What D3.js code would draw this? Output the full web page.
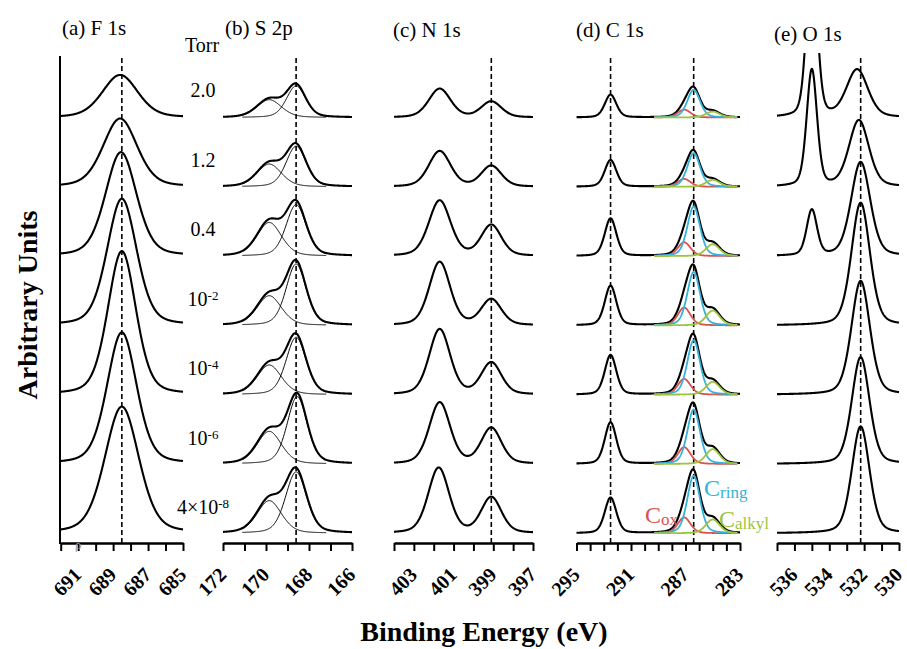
<!DOCTYPE html>
<html>
<head>
<meta charset="utf-8">
<script src="https://cdn.jsdelivr.net/npm/d3@7"></script>
<style>
  body { margin: 0; background: #fff; }
  svg { display: block; }
  text { font-family: "Liberation Serif", "Times New Roman", serif; }
</style>
</head>
<body>
<div id="chart"></div>
<script>
// ---- data ----
const pressureBase = ["2.0", "1.2", "0.4", "10", "10", "10", "4×10"];
const pressureExp  = ["", "", "", "-2", "-4", "-6", "-8"];

const panelTitles  = ["(a) F 1s", "(b) S 2p", "(c) N 1s", "(d) C 1s", "(e) O 1s"];
const energyDomain = [[692, 685], [172, 166], [404, 397], [295, 283], [537, 530]];
const tickLabels   = [[691, 689, 687, 685], [172, 170, 168, 166], [403, 401, 399, 397], [295, 291, 287, 283], [536, 534, 532, 530]];
const refLines     = [[688.5], [168.6], [399.1], [292.5, 286.4], [532.2]];

// peaks: [centre (eV), FWHM (eV), height], one row per pressure, top to bottom
const f1sMain = [[688.6, 2.4, 43], [688.6, 2.3, 69], [688.55, 2.1, 105], [688.5, 2.0, 128], [688.5, 1.9, 145], [688.5, 2.0, 133], [688.5, 2.3, 128]];

const s2pMain = [[168.6, 1.05, 32], [168.6, 1.1, 41], [168.6, 1.1, 52], [168.6, 1.1, 62], [168.6, 1.1, 58], [168.55, 1.1, 68], [168.6, 1.15, 62]];
const s2pHigh = [[169.85, 1.35, 18], [169.85, 1.35, 23], [169.85, 1.35, 34], [169.85, 1.35, 30], [169.85, 1.35, 30], [169.85, 1.35, 33], [169.85, 1.35, 33]];

const n1sHigh = [[401.7, 1.3, 29], [401.7, 1.3, 36], [401.7, 1.3, 56], [401.7, 1.25, 64], [401.7, 1.25, 66], [401.7, 1.25, 62], [401.75, 1.25, 66]];
const n1sLow  = [[399.1, 1.2, 16], [399.1, 1.2, 21], [399.1, 1.2, 31], [399.1, 1.2, 26], [399.1, 1.2, 32], [399.1, 1.2, 36], [399.1, 1.2, 36]];

const c1sCF3   = [[292.5, 1.0, 23], [292.5, 1.0, 27], [292.5, 1.0, 38], [292.5, 1.0, 40], [292.5, 1.0, 40], [292.5, 1.0, 42], [292.5, 1.0, 36]];
const c1sOx    = [[287.1, 1.1, 8], [287.1, 1.1, 8], [287.1, 1.1, 14], [287.1, 1.1, 18], [287.1, 1.1, 16], [287.1, 1.1, 17], [287.1, 1.1, 16]];
const c1sRing  = [[286.4, 1.1, 28], [286.4, 1.1, 34], [286.4, 1.1, 50], [286.4, 1.1, 54], [286.4, 1.1, 55], [286.4, 1.1, 55], [286.4, 1.1, 58]];
const c1sAlkyl = [[285.0, 1.2, 6], [285.0, 1.2, 7], [285.0, 1.2, 12], [285.0, 1.2, 15], [285.0, 1.2, 13], [285.0, 1.2, 15], [285.0, 1.2, 14]];

const o1sMain = [[532.4, 1.45, 48], [532.3, 1.35, 67], [532.2, 1.3, 95], [532.2, 1.25, 124], [532.2, 1.25, 115], [532.2, 1.2, 108], [532.2, 1.2, 108]];
const o1sGas  = [[535.0, 0.7, 170], [535.0, 0.7, 118], [535.0, 0.7, 46], [535.0, 0.7, 0], [535.0, 0.7, 0], [535.0, 0.7, 0], [535.0, 0.7, 0]];

// ---- layout ----
const width = 907, height = 649;
const axisY = 543, topBase = 117.5, step = 69.3, clipTop = 53;
const panelX = [[60.7, 183], [223, 352], [394, 533], [576.5, 740], [777, 899]];
const fitRange = [null, [171.1, 167.2], null, [289.3, 283.2], null];
const cRed = "#d9534f", cCyan = "#35b2da", cGreen = "#9cc43e";

const svg = d3.select("#chart").append("svg")
  .attr("width", width)
  .attr("height", height);

// one vertical scale for the stack: each spectrum is lifted by 70 units
const y = d3.scaleLinear().domain([0, 420]).range([topBase + 6 * step, topBase]);

const eta = 0.3;
function peakShape(e, [c, w, h]) {
  const t = (e - c) / w;
  return h * (eta / (1 + 4 * t * t) + (1 - eta) * Math.exp(-4 * Math.LN2 * t * t));
}

const measured = [
  pressureBase.map((_, i) => [f1sMain[i]]),
  pressureBase.map((_, i) => [s2pMain[i], s2pHigh[i]]),
  pressureBase.map((_, i) => [n1sHigh[i], n1sLow[i]]),
  pressureBase.map((_, i) => [c1sCF3[i], c1sOx[i], c1sRing[i], c1sAlkyl[i]]),
  pressureBase.map((_, i) => [o1sGas[i], o1sMain[i]])
];
const fitted = [
  [],
  [[s2pMain, "#000", 1], [s2pHigh, "#000", 1]],
  [],
  [[c1sOx, cRed, 1.8], [c1sRing, cCyan, 1.8], [c1sAlkyl, cGreen, 1.8]],
  []
];

panelTitles.forEach((title, p) => {
  const [lo, hi] = energyDomain[p];
  const x = d3.scaleLinear().domain([lo, hi]).range(panelX[p]);
  const g = svg.append("g");

  g.append("clipPath").attr("id", `clip${p}`)
    .append("rect")
    .attr("x", panelX[p][0] - 2).attr("y", clipTop)
    .attr("width", panelX[p][1] - panelX[p][0] + 4).attr("height", axisY - clipTop);

  const plot = g.append("g").attr("clip-path", `url(#clip${p})`);

  // reference lines
  plot.selectAll(".ref")
    .data(refLines[p])
    .enter()
    .append("line")
    .attr("x1", d => x(d)).attr("x2", d => x(d))
    .attr("y1", clipTop + 5).attr("y2", axisY)
    .attr("stroke", "#000")
    .attr("stroke-width", 1.6)
    .attr("stroke-dasharray", "5,3");

  const energies = d3.range(hi, lo + 0.001, 0.02);

  measured[p].forEach((comps, i) => {
    const off = (6 - i) * 70;
    const line = d3.line()
      .x(d => x(d[0]))
      .y(d => y(off + d[1]));

    const pts = energies.map(e => [e, d3.sum(comps, c => peakShape(e, c))]);
    plot.append("path")
      .attr("d", line(pts))
      .attr("fill", "none")
      .attr("stroke", "#000")
      .attr("stroke-width", 2.1)
      .attr("stroke-linejoin", "round");

    if (fitRange[p]) {
      const [f0, f1] = fitRange[p];
      const fe = d3.range(f1, f0 + 0.001, 0.02);
      fitted[p].forEach(([arr, col, sw]) => {
        plot.append("path")
          .attr("d", line(fe.map(e => [e, peakShape(e, arr[i])])))
          .attr("fill", "none")
          .attr("stroke", col)
          .attr("stroke-width", sw);
      });
    }
  });

  // bottom axis
  const ticks = d3.range(Math.ceil(hi), Math.floor(lo) + 1);
  const ax = g.append("g")
    .attr("transform", `translate(0,${axisY})`)
    .call(d3.axisBottom(x)
      .tickValues(ticks)
      .tickSize(8)
      .tickSizeOuter(0)
      .tickFormat(d => tickLabels[p].includes(d) ? d : ""));
  ax.select(".domain").attr("stroke-width", 2.6);
  ax.selectAll(".tick line").attr("stroke-width", 2);
  ax.selectAll(".tick text")
    .attr("x", null).attr("y", null).attr("dy", null)
    .attr("text-anchor", "end")
    .attr("transform", "translate(4,33) rotate(-45)")
    .style("font-family", "'Liberation Serif', serif")
    .style("font-weight", "bold")
    .style("font-size", "20px")
    .attr("fill", "#000");

  g.append("text")
    .attr("x", [62, 225, 393, 576, 774][p])
    .attr("y", [35, 35, 37, 37, 41][p])
    .style("font-size", "21px")
    .text(title);
});

// left axis line of panel (a)
svg.append("line")
  .attr("x1", 60).attr("x2", 60)
  .attr("y1", 56).attr("y2", axisY + 1)
  .attr("stroke", "#000")
  .attr("stroke-width", 2);

// small grey mark on panel (a) axis
svg.append("text")
  .attr("x", 75).attr("y", 549)
  .style("font-size", "13px")
  .attr("fill", "#999")
  .text("ρ");

// pressure labels
svg.append("text")
  .attr("x", 202).attr("y", 52)
  .attr("text-anchor", "middle")
  .style("font-size", "20px")
  .text("Torr");

const pl = svg.selectAll(".plabel")
  .data(pressureBase)
  .enter()
  .append("text")
  .attr("class", "plabel")
  .attr("x", 203)
  .attr("y", (d, i) => 97 + 69.5 * i)
  .attr("text-anchor", "middle")
  .style("font-size", "20px");
pl.append("tspan").text(d => d);
pl.append("tspan")
  .attr("dy", "-0.45em")
  .style("font-size", "13px")
  .text((d, i) => pressureExp[i]);

// component labels in (d)
function compLabel(xp, yp, sub, col) {
  const t = svg.append("text")
    .attr("x", xp).attr("y", yp)
    .attr("fill", col)
    .style("font-size", "24px");
  t.append("tspan").text("C");
  t.append("tspan").attr("dy", "0.1em").style("font-size", "17px").text(sub);
}
compLabel(645, 523, "ox", cRed);
compLabel(704, 496, "ring", cCyan);
compLabel(719, 527, "alkyl", cGreen);

// axis titles
svg.append("text")
  .attr("transform", "translate(37,305) rotate(-90)")
  .attr("text-anchor", "middle")
  .style("font-size", "28px")
  .style("font-weight", "bold")
  .text("Arbitrary Units");

svg.append("text")
  .attr("x", 484).attr("y", 641)
  .attr("text-anchor", "middle")
  .style("font-size", "28px")
  .style("font-weight", "bold")
  .text("Binding Energy (eV)");
</script>
</body>
</html>
